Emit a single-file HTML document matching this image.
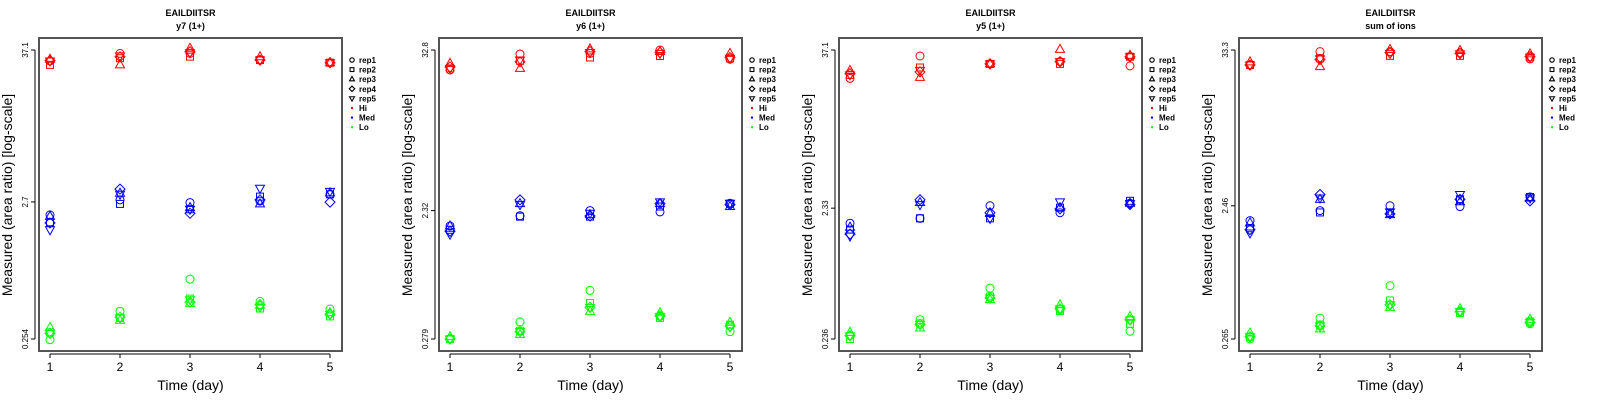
<!DOCTYPE html>
<html><head><meta charset="utf-8"><style>
html,body{margin:0;padding:0;background:#fff;}
svg{display:block;font-family:"Liberation Sans",Arial,sans-serif;}
</style></head><body>
<svg id="chart" width="1600" height="400" viewBox="0 0 1600 400"></svg>
<script>
// ---- data ----
const days = [1, 2, 3, 4, 5];
const reps = ["rep1", "rep2", "rep3", "rep4", "rep5"];
const groups = ["Hi", "Med", "Lo"];
const titles = ["EAILDIITSR", "EAILDIITSR", "EAILDIITSR", "EAILDIITSR"];
const subtitles = ["y7 (1+)", "y6 (1+)", "y5 (1+)", "sum of ions"];
const yTickLabels = [["0.254", "2.7", "37.1"], ["0.279", "2.32", "32.8"], ["0.236", "2.33", "37.1"], ["0.265", "2.46", "33.3"]];
const yTickValues = [[0.254, 2.7, 37.1], [0.279, 2.32, 32.8], [0.236, 2.33, 37.1], [0.265, 2.46, 33.3]];
// each: [day][rep] values (rep1..rep5)
const p1Hi = [[30.7,28.7,31.6,30.9,30.7],[35.0,32.2,28.7,33.0,33.5],[35.0,33.1,38.2,36.0,35.4],[31.2,31.2,33.0,31.2,31.2],[29.8,29.8,29.8,29.8,29.8]];
const p1Med = [[2.16,1.90,2.11,1.88,1.67],[2.80,2.61,3.14,3.37,3.08],[2.67,2.38,2.45,2.22,2.38],[2.74,2.96,2.61,2.80,3.42],[3.08,3.08,3.16,2.69,3.24]];
const p1Lo = [[0.251,0.285,0.31,0.28,0.28],[0.41,0.365,0.35,0.37,0.365],[0.714,0.51,0.47,0.48,0.50],[0.486,0.43,0.455,0.46,0.44],[0.426,0.375,0.40,0.39,0.39]];
const p2Hi = [[23.6,24.2,26.3,24.8,24.2],[30.7,27.5,24.2,27.0,27.8],[31.0,29.0,33.4,32.0,31.5],[32.8,29.7,32.0,31.5,31.0],[28.2,28.6,31.0,29.0,28.6]];
const p2Med = [[1.80,1.69,1.80,1.65,1.57],[2.13,2.10,2.60,2.77,2.56],[2.32,2.10,2.17,2.12,2.22],[2.27,2.48,2.60,2.60,2.68],[2.62,2.60,2.48,2.56,2.62]];
const p2Lo = [[0.279,0.279,0.29,0.279,0.279],[0.37,0.32,0.30,0.315,0.315],[0.622,0.505,0.44,0.47,0.47],[0.405,0.395,0.43,0.41,0.405],[0.315,0.353,0.367,0.345,0.34]];
const p3Hi = [[22.6,24.0,25.9,24.5,24.0],[33.4,27.3,23.0,25.3,26.0],[29.1,29.1,29.1,29.1,29.1],[30.3,29.1,37.5,30.3,30.3],[28.1,33.0,33.8,33.0,33.0]];
const p3Med = [[1.79,1.60,1.67,1.48,1.43],[1.95,1.95,2.57,2.70,2.48],[2.43,1.95,2.12,2.15,1.95],[2.15,2.35,2.35,2.30,2.60],[2.54,2.65,2.54,2.48,2.52]];
const p3Lo = [[0.25,0.236,0.265,0.25,0.25],[0.331,0.31,0.286,0.305,0.305],[0.575,0.497,0.47,0.485,0.485],[0.394,0.385,0.43,0.40,0.40],[0.27,0.308,0.35,0.33,0.33]];
const p4Hi = [[25.9,25.9,27.3,25.9,25.9],[32.4,29.0,25.2,28.4,28.7],[32.4,30.2,33.6,31.8,31.5],[31.8,30.2,33.0,31.5,31.2],[28.7,29.5,31.2,29.8,29.5]];
const p4Med = [[1.92,1.69,1.85,1.65,1.56],[2.27,2.20,2.74,2.97,2.80],[2.46,2.18,2.12,2.15,2.22],[2.43,2.74,2.63,2.74,2.97],[2.85,2.85,2.80,2.67,2.80]];
const p4Lo = [[0.265,0.275,0.293,0.275,0.275],[0.376,0.337,0.314,0.33,0.33],[0.646,0.505,0.45,0.47,0.47],[0.42,0.41,0.44,0.42,0.42],[0.342,0.355,0.368,0.35,0.35]];
const panelData = [[p1Hi,p1Med,p1Lo],[p2Hi,p2Med,p2Lo],[p3Hi,p3Med,p3Lo],[p4Hi,p4Med,p4Lo]];
const groupColors = ["#ff0000", "#0000ff", "#00ff00"];

// ---- drawing ----
const NS = "http://www.w3.org/2000/svg";
const svg = document.getElementById("chart");
function mk(tag, attrs, parent) {
  const e = document.createElementNS(NS, tag);
  for (const k in attrs) e.setAttribute(k, attrs[k]);
  parent.appendChild(e);
  return e;
}
function marker(shape, cx, cy, color, parent) {
  let e;
  const st = {fill: "none", stroke: color, "stroke-width": 1};
  if (shape === 0) e = mk("circle", Object.assign({cx: cx, cy: cy, r: 4}, st), parent);
  else if (shape === 1) e = mk("rect", Object.assign({x: cx - 3.5, y: cy - 3.5, width: 7, height: 7}, st), parent);
  else if (shape === 2) e = mk("polygon", Object.assign({points: `${cx},${cy-5} ${cx-4.5},${cy+3} ${cx+4.5},${cy+3}`}, st), parent);
  else if (shape === 3) e = mk("polygon", Object.assign({points: `${cx},${cy-5} ${cx+5},${cy} ${cx},${cy+5} ${cx-5},${cy}`}, st), parent);
  else e = mk("polygon", Object.assign({points: `${cx},${cy+5} ${cx-4.5},${cy-3} ${cx+4.5},${cy-3}`}, st), parent);
  return e;
}
for (let p = 0; p < 4; p++) {
  const ox = p * 400;
  const g = mk("g", {}, svg);
  
  
  const xScale = d => ox + 50 + (d - 1) * 70;
  const lo = Math.log(yTickValues[p][0]), hi = Math.log(yTickValues[p][2]);
  const yScale = v => 339 - (Math.log(v) - lo) / (hi - lo) * 289;

  const t1 = mk("text", {x: ox + 190.5, y: 16, "text-anchor": "middle", "font-size": 9, "font-weight": "bold"}, g);
  t1.textContent = titles[p];
  
  
  const t2 = mk("text", {x: ox + 190.5, y: 29, "text-anchor": "middle", "font-size": 9, "font-weight": "bold"}, g);
  t2.textContent = subtitles[p];
  
  

  const box = mk("rect", {x: ox + 39, y: 38, width: 303, height: 313, fill: "none", stroke: "#555", "stroke-width": 2}, g);
  
  

  // x axis
  const xa = mk("g", {}, g);
  
  
  mk("line", {x1: xScale(1), x2: xScale(5), y1: 354, y2: 354, stroke: "#000"}, xa);
  days.forEach(d => {
    mk("line", {x1: xScale(d), x2: xScale(d), y1: 354, y2: 358, stroke: "#000"}, xa);
    const tl = mk("text", {x: xScale(d), y: 371, "text-anchor": "middle", "font-size": 12}, xa);
    tl.textContent = d;
    
    
  });
  const xt = mk("text", {x: ox + 190.5, y: 390, "text-anchor": "middle", "font-size": 14}, g);
  xt.textContent = "Time (day)";
  
  

  // y axis
  const ya = mk("g", {}, g);
  
  
  mk("line", {x1: ox + 35, x2: ox + 35, y1: yScale(yTickValues[p][2]), y2: yScale(yTickValues[p][0]), stroke: "#000"}, ya);
  yTickValues[p].forEach((v, i) => {
    const yy = yScale(v);
    mk("line", {x1: ox + 31, x2: ox + 35, y1: yy, y2: yy, stroke: "#000"}, ya);
    const tl = mk("text", {x: 0, y: 0, "text-anchor": "middle", "font-size": 8, transform: `translate(${ox + 28},${yy}) rotate(-90)`}, ya);
    tl.textContent = yTickLabels[p][i];
    
    
  });
  const yt = mk("text", {x: 0, y: 0, "text-anchor": "middle", "font-size": 14, transform: `translate(${ox + 12},195) rotate(-90)`}, g);
  yt.textContent = "Measured (area ratio) [log-scale]";
  
  

  // points
  panelData[p].forEach((grp, gi) => {
    grp.forEach((dayVals, di) => {
      dayVals.forEach((v, ri) => {
        const m = marker(ri, xScale(days[di]), yScale(v), groupColors[gi], g);
        
        
      });
    });
  });

  // legend
  const lg = mk("g", {}, g);
  
  
  const labels = reps.concat(groups);
  labels.forEach((lab, i) => {
    const yy = 60 + i * 9.6;
    if (i < 5) {
      const s = mk("g", {transform: `translate(${ox + 352},${yy}) scale(0.55)`}, lg);
      marker(i, 0, 0, "#000", s).setAttribute("stroke-width", 2);
    } else {
      mk("circle", {cx: ox + 352, cy: yy, r: 1.2, fill: groupColors[i - 5]}, lg);
    }
    const tx = mk("text", {x: ox + 359, y: yy + 3, "font-size": 8, "font-weight": "bold"}, lg);
    tx.textContent = lab;
    
    
  });
}
</script>
</body></html>
